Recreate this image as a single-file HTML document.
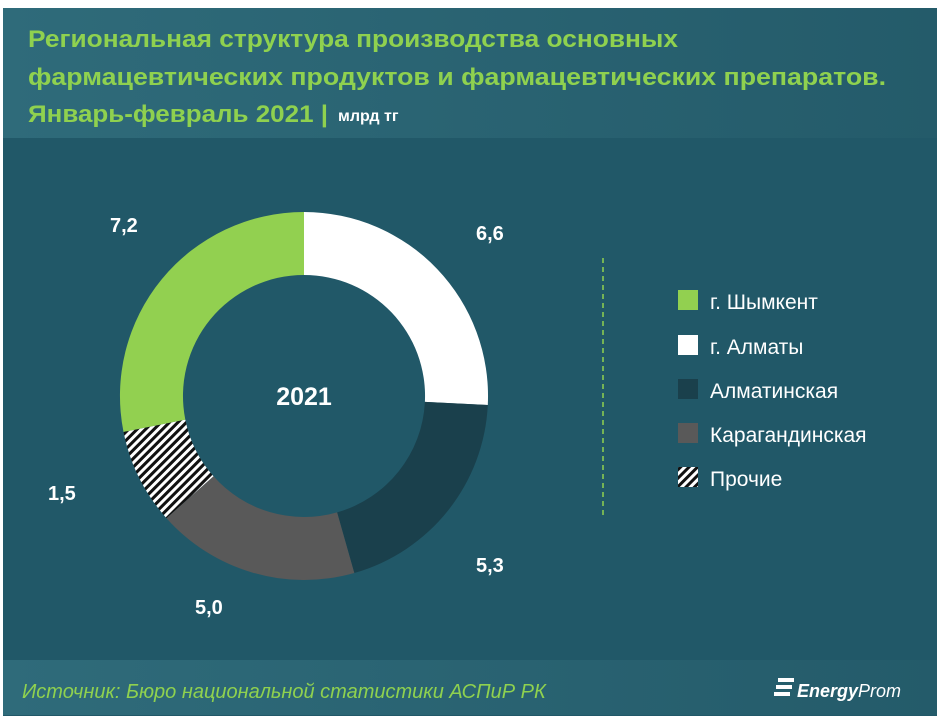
<!DOCTYPE html>
<html><head><meta charset="utf-8"><style>
body{margin:0;background:#fff;width:937px;height:720px;overflow:hidden;font-family:"Liberation Sans",sans-serif}
</style></head><body>
<svg width="937" height="720" xmlns="http://www.w3.org/2000/svg">
<defs>
<linearGradient id="h" x1="0" x2="1"><stop offset="0" stop-color="#2f6b7a"/><stop offset="1" stop-color="#245b6a"/></linearGradient>
<pattern id="hatch" width="6" height="6" patternUnits="userSpaceOnUse" patternTransform="rotate(45)"><rect width="6" height="6" fill="#fff"/><rect width="3" height="6" fill="#111"/></pattern>
</defs>
<rect x="3" y="8" width="934" height="708" fill="#215868"/>
<rect x="3" y="8" width="934" height="130" fill="url(#h)"/>
<rect x="3" y="660" width="934" height="55" fill="url(#h)"/>
<g font-weight="bold" fill="#8fd14f" font-size="24" font-family="Liberation Sans Narrow, Liberation Sans, sans-serif">
<text x="28" y="47" textLength="650" lengthAdjust="spacingAndGlyphs">Региональная структура производства основных</text>
<text x="28" y="85" textLength="858" lengthAdjust="spacingAndGlyphs">фармацевтических продуктов и фармацевтических препаратов.</text>
<text x="28" y="122" textLength="300" lengthAdjust="spacingAndGlyphs">Январь-февраль 2021 |</text>
</g>
<text x="338" y="121" fill="#fff" font-size="16" font-weight="bold">млрд тг</text>
<g transform="translate(304,396)">
<path d="M0,-184 A184,184 0 0 1 183.8,9 L120.9,5.9 A121,121 0 0 0 0,-121Z" fill="#fff"/>
<path d="M183.8,9 A184,184 0 0 1 50.3,177 L33.1,116.4 A121,121 0 0 0 120.9,5.9Z" fill="#1a404c"/>
<path d="M50.3,177 A184,184 0 0 1 -137.6,122.1 L-90.5,80.3 A121,121 0 0 0 33.1,116.4Z" fill="#595959"/>
<path d="M-137.6,122.1 A184,184 0 0 1 -180.5,35.9 L-118.7,23.6 A121,121 0 0 0 -90.5,80.3Z" fill="url(#hatch)"/>
<path d="M-180.5,35.9 A184,184 0 0 1 0,-184 L0,-121 A121,121 0 0 0 -118.7,23.6Z" fill="#92d050"/>
</g>
<g fill="#fff" font-weight="bold" font-size="20">
<text x="304" y="405" text-anchor="middle" font-size="25">2021</text>
<text x="110" y="232">7,2</text>
<text x="476" y="240">6,6</text>
<text x="476" y="572">5,3</text>
<text x="195" y="614">5,0</text>
<text x="48" y="500">1,5</text>
</g>
<line x1="603" y1="258" x2="603" y2="516" stroke="#8fd14f" stroke-dasharray="5,4" stroke-width="1.5"/>
<rect x="678" y="290" width="20" height="20" fill="#92d050"/>
<rect x="678" y="335" width="20" height="20" fill="#fff"/>
<rect x="678" y="379" width="20" height="20" fill="#1a404c"/>
<rect x="678" y="423" width="20" height="20" fill="#595959"/>
<rect x="678" y="467" width="20" height="20" fill="url(#hatch)"/>
<g fill="#fff" font-size="21">
<text x="710" y="309">г. Шымкент</text>
<text x="710" y="354">г. Алматы</text>
<text x="710" y="398">Алматинская</text>
<text x="710" y="442">Карагандинская</text>
<text x="710" y="486">Прочие</text>
</g>
<text x="22" y="698" fill="#8fd14f" font-size="20" font-style="italic">Источник: Бюро национальной  статистики АСПиР РК</text>
<g fill="#fff"><rect x="778" y="678" width="16" height="4"/><rect x="776" y="685" width="16" height="4"/><rect x="774" y="692" width="16" height="4"/></g>
<text x="797" y="697" fill="#fff" font-size="18" font-style="italic" font-weight="bold">Energy<tspan font-weight="normal">Prom</tspan></text>
</svg>
</body></html>
